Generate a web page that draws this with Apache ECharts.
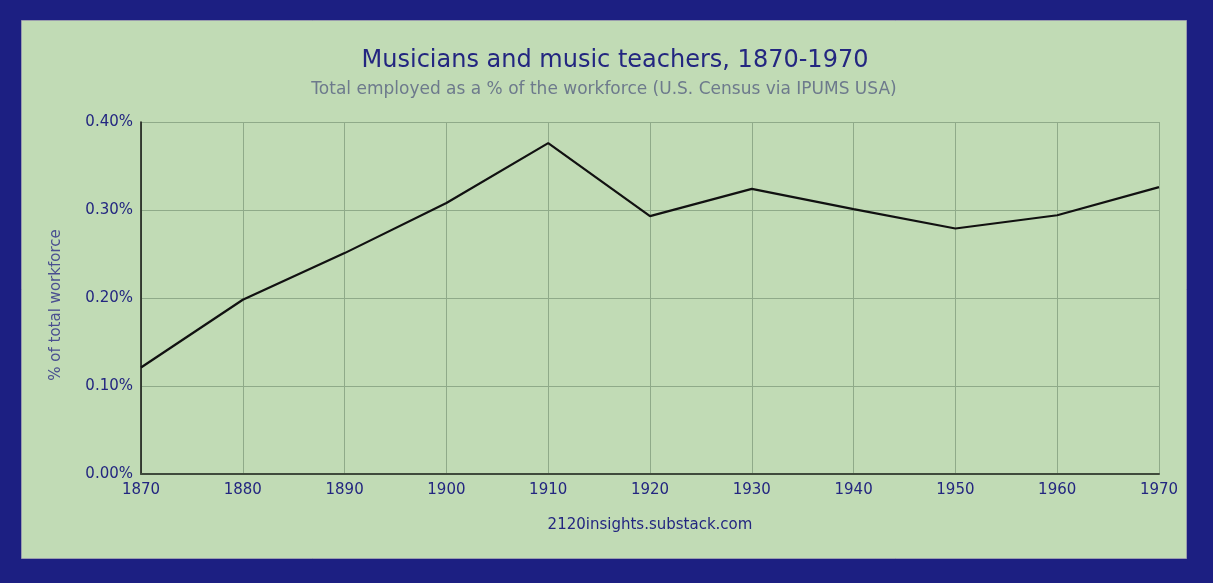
<!DOCTYPE html>
<html>
<head>
<meta charset="utf-8">
<script src="https://cdn.jsdelivr.net/npm/echarts@6/dist/echarts.min.js"></script>
<style>
  html, body { margin: 0; padding: 0; background: #1c1f82; }
  #chart { width: 1213px; height: 583px; }
</style>
</head>
<body>
<div id="chart"></div>
<script>
// census years
const years = ['1870', '1880', '1890', '1900', '1910', '1920', '1930', '1940', '1950', '1960', '1970'];
// musicians and music teachers, % of total workforce
const sharePct = [0.121, 0.198, 0.251, 0.308, 0.376, 0.293, 0.324, 0.301, 0.279, 0.294, 0.326];
const yTicks = [0, 0.1, 0.2, 0.3, 0.4];

const navy = '#232680';
const chart = echarts.init(document.getElementById('chart'));
chart.setOption({
    backgroundColor: '#1c1f82',
    textStyle: { fontFamily: 'DejaVu Sans' },
    graphic: [{
        type: 'rect',
        z: -10,
        shape: { x: 21.5, y: 20.5, width: 1165, height: 538 },
        style: { fill: '#c1dbb5', stroke: '#9a9cae', lineWidth: 1 }
    }, {
        // y axis title, sits a little below the plot centre
        type: 'text',
        x: 56,
        y: 305,
        rotation: Math.PI / 2,
        style: {
            text: '% of total workforce',
            fill: '#4a4f90',
            font: '15px "DejaVu Sans"',
            textAlign: 'center',
            textVerticalAlign: 'middle'
        }
    }],
    title: [{
        text: 'Musicians and music teachers, 1870-1970',
        left: 610,
        top: 44,
        textAlign: 'center',
        textStyle: { color: navy, fontSize: 24, fontWeight: 'normal', fontFamily: 'DejaVu Sans' }
    }, {
        text: 'Total employed as a % of the workforce (U.S. Census via IPUMS USA)',
        left: 599,
        top: 76,
        textAlign: 'center',
        textStyle: { color: '#6d7a8c', fontSize: 17, fontWeight: 'normal', fontFamily: 'DejaVu Sans' }
    }],
    grid: { left: 141, right: 54, top: 122, bottom: 109 },
    xAxis: {
        type: 'category',
        data: years,
        boundaryGap: false,
        name: '2120insights.substack.com',
        nameLocation: 'middle',
        nameGap: 44,
        nameTextStyle: { color: navy, fontSize: 15 },
        axisLine: { lineStyle: { color: '#3f4a3c', width: 2 } },
        axisTick: { show: false },
        axisLabel: { color: navy, fontSize: 15, margin: 9 },
        splitLine: { show: true, lineStyle: { color: '#8faa89', width: 1 } }
    },
    yAxis: {
        type: 'value',
        min: yTicks[0],
        max: yTicks[yTicks.length - 1],
        interval: 0.1,
        axisLine: { show: true, lineStyle: { color: '#111', width: 1.5 } },
        axisTick: { show: false },
        axisLabel: {
            color: navy, fontSize: 15, margin: 8,
            formatter: v => v.toFixed(2) + '%'
        },
        splitLine: { lineStyle: { color: '#8faa89', width: 1 } }
    },
    series: [{
        type: 'line',
        data: sharePct,
        showSymbol: false,
        symbol: 'none',
        lineStyle: { color: '#111', width: 2.2 },
        animation: false
    }]
});
</script>
</body>
</html>
